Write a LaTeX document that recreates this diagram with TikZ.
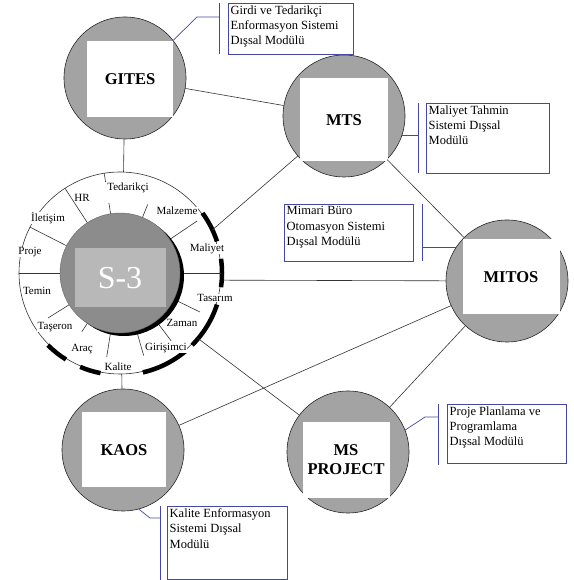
\documentclass[tikz,border=0pt]{standalone}
\usepackage{fontspec}
\setmainfont{Liberation Serif}
\usetikzlibrary{calc}

\definecolor{modulgri}{gray}{0.64}
\definecolor{sgri}{gray}{0.55}
\definecolor{skare}{gray}{0.72}
\definecolor{kutumavi}{RGB}{70,70,165}

\begin{document}
\begin{tikzpicture}[
    x=1pt, y=1pt,
    modul/.style={circle, draw=black!85, fill=modulgri, minimum size=122pt,
                  inner sep=0pt, line width=0.6pt},
    kare/.style={rectangle, fill=white, minimum width=86pt, minimum height=76pt,
                 align=center, inner sep=0pt, font=\fontsize{16.5}{19}\selectfont\bfseries},
    halkayazi/.style={fill=white, inner sep=0.3pt, font=\fontsize{11}{11}\selectfont},
    kutu/.style={rectangle, draw=kutumavi, line width=0.7pt, inner sep=0pt, anchor=north west},
    kutuyazi/.style={anchor=north west, align=left, inner sep=2.5pt,
                     font=\fontsize{12.5}{15.3}\selectfont},
    hat/.style={draw=black!80, line width=0.6pt},
    mavihat/.style={draw=kutumavi, line width=0.7pt},
    kalin/.style={line width=4.5pt, black},
]
\useasboundingbox (0,0) rectangle (573,580);

% S-3 halkasi
\coordinate (merkez) at (120,307);
\draw[hat] (merkez) circle[radius=101];
\foreach \bas/\son in {36/18, 8/-8, -18/-45, -50/-77, -101/-113, -122/-135}
    \draw[kalin] ($(merkez)+(\bas:102)$) arc[start angle=\bas, end angle=\son, radius=102];
\foreach \aci/\ic/\dis in {123/58/101, 153/58/101, 180/58/101, -148/58/85, -123/58/70,
    -99/58/85, -74/58/86, -53/58/85, -26/58/89, 0/58/101, 34/58/93, 68/58/74,
    99/58/71, 99/92/101}
    \draw[hat] ($(merkez)+(\aci:\ic)$) -- ($(merkez)+(\aci:\dis)$);
\fill[black] ($(merkez)+(4,-3)$) circle[radius=60];
\node[circle, draw=black!60, fill=sgri, minimum size=120pt, inner sep=0pt] (s3) at (merkez) {};
\node[rectangle, fill=skare, minimum width=91pt, minimum height=59pt, text=white,
      font=\fontsize{32}{32}\selectfont] (s3-k) at (120,302) {S-3};

\foreach \ad/\x/\y/\yazi in {tedarikci/128/392/Tedarikçi, hr/82/382/HR,
    iletisim/48/362/İletişim, proje/30/328/Proje, temin/37/289/Temin,
    taseron/55/253/Taşeron, arac/82/231/Araç, kalite/118/213/Kalite,
    girisimci/166/232/Girişimci, zaman/182/257/Zaman, tasarim/215/282/Tasarım,
    maliyet/207/331/Maliyet, malzeme/177/369/Malzeme}
    \node[halkayazi] (\ad) at (\x,\y) {\yazi};

% ana moduller
\node[modul] (gites) at (125,502) {};
\node[modul] (mts) at (344,464) {};
\node[modul] (mitos) at (507,299) {};
\node[modul] (kaos) at (123,130) {};
\node[modul] (msp) at (348,128) {};
\node[kare] (gites-k) at (130,501) {GITES};
\node[kare, minimum width=88pt, minimum height=83pt] (mts-k) at (344,460) {MTS};
\node[kare, minimum width=97pt, minimum height=75pt] (mitos-k) at (511,303) {MITOS};
\node[kare, minimum width=84pt, minimum height=75pt] (kaos-k) at (124,130) {KAOS};
\node[kare, minimum width=87pt] (msp-k) at (346,120) {MS\\PROJECT};

% baglantilar
\coordinate (halkaK) at ($(merkez)+(88:101)$);
\coordinate (halkaG) at ($(merkez)+(-89:101)$);
\coordinate (halkaMTS) at ($(merkez)+(25:102)$);
\coordinate (halkaD) at ($(merkez)+(-4:103)$);
\coordinate (halkaMSP) at ($(merkez)+(-40:101)$);
\draw[hat] (gites) -- (halkaK);
\draw[hat] (gites) -- (mts);
\draw[hat] (mts) -- (halkaMTS);
\draw[hat] (mts) -- (mitos);
\draw[hat] (halkaD) -- (mitos);
\draw[hat] (mitos) -- (kaos);
\draw[hat] (mitos) -- (msp);
\draw[hat] (halkaMSP) -- (msp);
\draw[hat] (halkaG) -- (kaos);

% dissal moduller
\node[kutu, minimum width=125pt, minimum height=51pt] (gites-kutu) at (228,577) {};
\node[kutuyazi] at (gites-kutu.north west) {Girdi ve Tedarikçi\\Enformasyon Sistemi\\Dışsal Modülü};
\coordinate (gites-ayrac) at ([xshift=-9pt]gites-kutu.north west);
\draw[mavihat] (gites-ayrac) -- ++(0,-51);
\draw[mavihat] (gites.38) -- (197,563) -- (gites-ayrac |- 197,563);

\node[kutu, minimum width=123pt, minimum height=70pt] (mts-kutu) at (426,477) {};
\node[kutuyazi] at (mts-kutu.north west) {Maliyet Tahmin\\Sistemi Dışsal\\Modülü};
\coordinate (mts-ayrac) at ([xshift=-8pt]mts-kutu.north west);
\draw[mavihat] (mts-ayrac) -- ++(0,-70);
\draw[mavihat] (mts.-18) -- (mts-ayrac |- mts.-18);

\node[kutu, minimum width=129pt, minimum height=57pt] (mitos-kutu) at (284,376) {};
\node[kutuyazi] at (mitos-kutu.north west) {Mimari Büro\\Otomasyon Sistemi\\Dışsal Modülü};
\coordinate (mitos-ayrac) at ([xshift=9pt]mitos-kutu.north east);
\draw[mavihat] (mitos-ayrac) -- ++(0,-57);
\draw[mavihat] (mitos.147) -- (mitos-ayrac |- mitos.147);

\node[kutu, minimum width=119pt, minimum height=59pt] (msp-kutu) at (447,176) {};
\node[kutuyazi] at (msp-kutu.north west) {Proje Planlama ve\\Programlama\\Dışsal Modülü};
\coordinate (msp-ayrac) at ([xshift=-9pt]msp-kutu.north west);
\draw[mavihat] (msp-ayrac) -- ++(0,-61);
\draw[mavihat] (msp.21) -- (425,163) -- (msp-ayrac |- 425,163);

\node[kutu, minimum width=120pt, minimum height=73pt] (kaos-kutu) at (167,74) {};
\node[kutuyazi] at (kaos-kutu.north west) {Kalite Enformasyon\\Sistemi Dışsal\\Modülü};
\coordinate (kaos-ayrac) at ([xshift=-7pt]kaos-kutu.north west);
\draw[mavihat] (kaos-ayrac) -- ++(0,-74);
\draw[mavihat] (kaos.-75) -- (150,62) -- (kaos-ayrac |- 150,62);

\end{tikzpicture}
\end{document}
